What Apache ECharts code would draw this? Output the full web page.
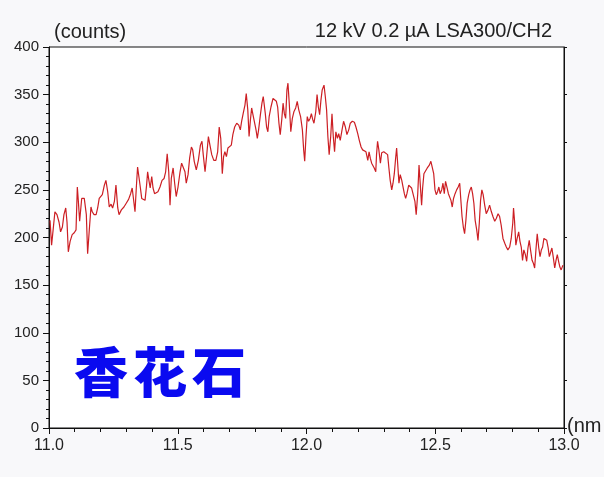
<!DOCTYPE html>
<html>
<head>
<meta charset="utf-8">
<script src="https://cdn.jsdelivr.net/npm/echarts@6/dist/echarts.min.js"></script>
<style>
html,body{margin:0;padding:0;background:#f8f8fa;}
#chart{width:604px;height:477px;}
</style>
</head>
<body>
<div id="chart"></div>
<script>
// Wavelength (nm) of each traced sample
const wavelengths = [
11.004,11.010,11.016,11.023,11.031,11.039,11.045,11.052,11.058,11.065,11.070,11.075,11.082,11.090,11.098,11.105,11.110,11.114,11.119,11.127,11.137,11.145,11.150,11.156,11.163,11.168,11.175,11.183,11.189,11.195,11.202,11.207,11.215,11.221,11.228,11.234,11.241,11.247,11.254,11.260,11.267,11.272,
11.281,11.291,11.300,11.309,11.317,11.323,11.327,11.334,11.339,11.344,11.349,11.355,11.360,11.366,11.373,11.379,11.383,11.388,11.393,11.399,11.404,11.410,11.417,11.423,11.431,11.439,11.447,11.453,11.459,11.465,11.470,11.475,11.482,11.488,11.494,11.501,11.509,11.515,11.522,11.528,11.533,11.540,11.546,11.553,
11.558,11.564,11.572,11.580,11.588,11.594,11.599,11.606,11.612,11.619,11.625,11.632,11.640,11.648,11.655,11.661,11.667,11.673,11.678,11.683,11.689,11.695,11.702,11.708,11.714,11.721,11.729,11.737,11.743,11.748,11.754,11.761,11.766,11.772,11.777,11.782,11.787,11.792,11.797,11.804,11.809,11.814,11.821,11.827,11.832,
11.840,11.845,11.850,11.855,11.862,11.870,11.876,11.883,11.888,11.893,11.898,11.904,11.909,11.914,11.919,11.924,11.928,11.933,11.939,11.945,11.951,11.958,11.964,11.970,11.977,11.984,11.989,11.993,11.998,12.003,12.008,12.014,12.019,12.024,12.029,12.036,12.041,12.046,12.051,12.056,12.061,12.068,12.073,12.078,12.083,12.088,12.094,12.099,12.104,12.109,12.114,12.120,12.125,
12.131,12.138,12.144,12.151,12.157,12.164,12.170,12.178,12.186,12.192,12.199,12.205,12.212,12.218,12.224,12.231,12.238,12.243,12.248,12.253,12.258,12.263,12.269,12.272,12.276,12.281,12.287,12.292,12.300,12.307,12.315,12.320,12.325,12.331,12.336,12.341,12.346,12.350,12.354,12.359,12.364,12.370,12.375,12.380,12.385,12.390,12.397,12.403,
12.408,12.415,12.421,12.426,12.432,12.437,12.442,12.447,12.451,12.456,12.463,12.469,12.477,12.483,12.488,12.494,12.499,12.504,12.509,12.514,12.519,12.525,12.530,12.535,12.540,12.546,12.551,12.556,12.561,12.566,12.571,12.577,12.583,12.589,12.595,12.599,12.604,12.609,12.614,12.619,12.624,12.630,12.635,12.640,12.645,12.650,12.655,12.661,12.666,12.671,12.676,12.681,12.686,
12.692,12.698,12.705,12.711,12.718,12.724,12.731,12.737,12.744,12.750,12.756,12.763,12.770,12.776,12.782,12.789,12.795,12.801,12.804,12.808,12.813,12.818,12.824,12.829,12.834,12.839,12.844,12.850,12.855,12.860,12.865,12.870,12.876,12.881,12.886,12.891,12.896,12.902,12.907,12.912,12.917,12.922,12.927,12.933,12.938,12.943,12.948,12.953,12.958,12.964,12.969,12.974,12.979,12.984,12.989,12.996
];
// Counts at each wavelength
const counts = [
218,192,208,227,224,216,206,211,224,231,216,185,196,203,205,208,253,238,217,241,241,224,183,206,232,227,224,224,231,241,239,245,255,260,248,232,235,231,238,255,231,224,
229,232,236,240,246,252,243,227,252,274,264,252,241,240,239,255,269,260,252,264,252,246,246,248,253,260,262,269,288,269,234,262,273,257,243,253,269,278,278,269,257,266,283,295,
292,280,271,281,297,301,287,269,285,306,297,287,281,281,290,316,304,267,285,290,285,294,295,297,308,316,320,318,313,322,330,339,351,334,306,323,336,329,330,313,304,313,329,341,348,
330,316,311,327,337,346,348,343,337,320,308,324,341,330,325,355,362,341,311,325,332,336,343,334,327,313,292,280,306,327,322,325,330,324,320,332,350,337,329,344,355,360,348,334,306,287,306,330,306,290,311,304,309,
302,313,322,316,308,313,320,322,321,316,309,302,295,292,294,290,281,290,283,278,276,273,269,287,301,292,278,289,290,289,287,273,260,250,257,267,283,294,278,257,266,260,253,246,241,246,255,257,
252,250,238,224,246,276,255,234,252,267,269,273,276,280,281,267,250,245,248,253,246,250,257,246,259,252,246,245,239,232,241,246,250,253,257,241,222,211,204,218,236,245,250,253,246,236,218,208,197,215,239,250,245,
234,225,229,234,227,222,217,220,225,222,213,199,194,190,187,190,199,215,231,217,192,199,206,196,190,176,187,182,175,189,197,187,176,173,168,187,204,189,180,187,190,199,201,197,190,180,182,189,180,168,176,182,175,169,166,171
];
const xTicks = [11.0, 11.5, 12.0, 12.5, 13.0];
const yTicks = [0, 50, 100, 150, 200, 250, 300, 350, 400];
const yUnitLabel = '(counts)';
const xUnitLabel = '(nm';
const titleText = '12 kV 0.2 µA LSA300/CH2';
const watermarkChars = ['香', '花', '石'];

const seriesData = wavelengths.map((w, i) => [w, counts[i]]);
const chart = echarts.init(document.getElementById('chart'), null, {renderer: 'canvas'});
const labelFont = 'Liberation Sans, Arial, sans-serif';
const wmGraphics = watermarkChars.map((ch, i) => ({
  type: 'text', left: 74 + i * 59, top: 345,
  style: {text: ch, font: '900 54px "Noto Sans CJK SC", sans-serif', fill: '#0a0af0'}
}));
chart.setOption({
  animation: false,
  backgroundColor: '#f8f8fa',
  grid: {left: 49, right: 40, top: 47, bottom: 49, show: true, backgroundColor: '#ffffff', borderColor: '#111', borderWidth: 1},
  xAxis: [{
    type: 'value', min: xTicks[0], max: xTicks[xTicks.length - 1], interval: 0.5,
    axisLine: {show: true, lineStyle: {color: '#111', width: 1}},
    axisTick: {show: true, length: 6, lineStyle: {color: '#111'}},
    minorTick: {show: true, splitNumber: 5, length: 4, lineStyle: {color: '#111'}},
    splitLine: {show: false},
    axisLabel: {color: '#222', fontSize: 16, fontFamily: labelFont, margin: 10, formatter: v => v.toFixed(1)}
  }],
  yAxis: [{
    type: 'value', min: yTicks[0], max: yTicks[yTicks.length - 1], interval: 50,
    axisLine: {show: true, lineStyle: {color: '#111', width: 1}},
    axisTick: {show: true, length: 6, lineStyle: {color: '#111'}},
    minorTick: {show: true, splitNumber: 5, length: 3, lineStyle: {color: '#111'}},
    splitLine: {show: false},
    axisLabel: {color: '#222', fontSize: 15, fontFamily: labelFont, margin: 10}
  }, {
    type: 'value', position: 'right', min: 0, max: 400, interval: 50,
    axisLine: {show: true, lineStyle: {color: '#111', width: 1}},
    axisTick: {show: true, length: 3, lineStyle: {color: '#111'}},
    axisLabel: {show: false}, splitLine: {show: false}
  }],
  series: [{
    type: 'line', data: seriesData, showSymbol: false, symbol: 'none',
    lineStyle: {color: '#cc1f24', width: 1.2}, z: 3
  }],
  graphic: [
    {type: 'text', left: 54, top: 22, style: {text: yUnitLabel, font: '20px Liberation Sans, Arial, sans-serif', fill: '#222'}},
    {type: 'text', right: 52, top: 21, style: {text: titleText, font: '20px Liberation Sans, Arial, sans-serif', fill: '#222'}},
    {type: 'text', left: 567, top: 416, style: {text: xUnitLabel, font: '20px Liberation Sans, Arial, sans-serif', fill: '#222'}}
  ].concat(wmGraphics)
});
</script>
</body>
</html>
